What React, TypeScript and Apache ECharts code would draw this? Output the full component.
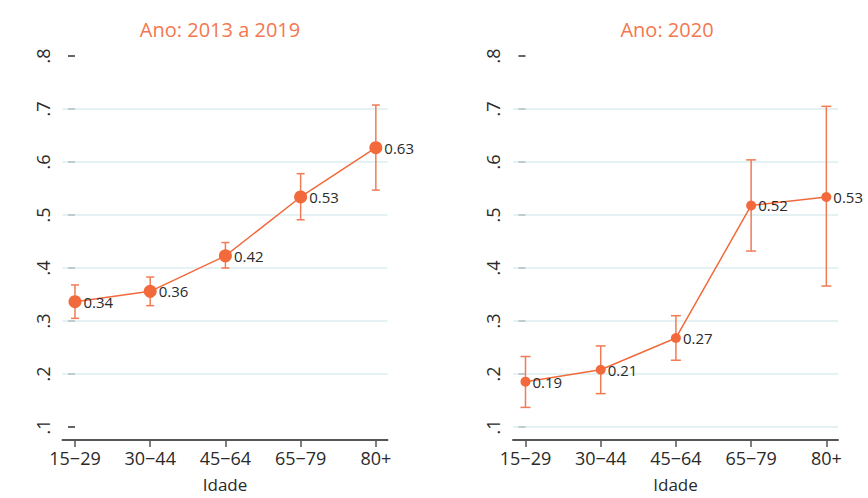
import React, { useEffect, useRef } from "react";
import * as echarts from "echarts";

const categories = ["15−29", "30−44", "45−64", "65−79", "80+"];
const titles = ["Ano: 2013 a 2019", "Ano: 2020"];
const meanA = [0.3365, 0.356, 0.423, 0.534, 0.627];
const lowA = [0.305, 0.329, 0.4, 0.491, 0.547];
const highA = [0.368, 0.383, 0.448, 0.578, 0.7075];
const meanB = [0.1855, 0.208, 0.268, 0.518, 0.534];
const lowB = [0.137, 0.163, 0.226, 0.432, 0.366];
const highB = [0.233, 0.253, 0.31, 0.604, 0.705];
const yTicks = [0.1, 0.2, 0.3, 0.4, 0.5, 0.6, 0.7, 0.8];
const gridValuesA = [0.2, 0.3, 0.4, 0.5, 0.6, 0.7];
const gridValuesB = [0.1, 0.2, 0.3, 0.4, 0.5, 0.6, 0.7];
const xName = "Idade";

const ORANGE = "#f26a3b";
const BAR = "#f27a55";
const GRID = "#dceef0";
const TEXT = "#2a2a2a";
const FONT = "Open Sans";

export default function App() {
  const ref = useRef<HTMLDivElement>(null);
  useEffect(() => {
    if (!ref.current) return;
    const chart = echarts.init(ref.current, null, { renderer: "svg" });
    const grids = [
      { left: 62.5, width: 325, top: 56, bottom: 58, outerBoundsMode: "none", containLabel: false },
      { left: 513, width: 325, top: 56, bottom: 58, outerBoundsMode: "none", containLabel: false },
    ];
    const xAxes = grids.map((_, i) => ({
      type: "value",
      gridIndex: i,
      min: -0.166,
      max: 4.155,
      name: xName,
      nameLocation: "middle",
      nameGap: 36,
      nameTextStyle: { fontFamily: FONT, fontSize: 17, color: TEXT, lineHeight: 17 },
      axisLine: { show: true, lineStyle: { color: "#555", width: 2 } },
      axisTick: { show: true, customValues: [0, 1, 2, 3, 4], length: 7, lineStyle: { color: "#555", width: 1.5 } },
      axisLabel: {
        customValues: [0, 1, 2, 3, 4],
        formatter: (v: number) => categories[Math.round(v)] ?? "",
        fontFamily: FONT,
        fontSize: 18,
        color: TEXT,
        margin: 9,
      },
      splitLine: { show: false },
    }));
    const yAxes = grids.map((_, i) => ({
      type: "value",
      gridIndex: i,
      min: 0.0755,
      max: 0.8,
      axisLine: { show: false },
      axisTick: { show: true, customValues: yTicks, length: 7, lineStyle: { color: "#333", width: 1.5 } },
      axisLabel: {
        customValues: yTicks,
        formatter: (v: number) => v.toFixed(1).replace(/^0/, ""),
        rotate: 90,
        fontFamily: FONT,
        fontSize: 18,
        color: TEXT,
        margin: 11,
      },
      splitLine: { show: false },
    }));
    const panels = [
      { mean: meanA, low: lowA, high: highA, size: 13, cap: 4, grid: gridValuesA },
      { mean: meanB, low: lowB, high: highB, size: 10, cap: 5, grid: gridValuesB },
    ];
    const series: any[] = [];
    panels.forEach((p, i) => {
      series.push({
        type: "custom",
        xAxisIndex: i,
        yAxisIndex: i,
        z: 2,
        encode: { x: 0, y: [1, 2] },
        data: p.low.map((l, k) => [k, l, p.high[k]]),
        renderItem: (params: any, api: any) => {
          const lo = api.coord([api.value(0), api.value(1)]);
          const hi = api.coord([api.value(0), api.value(2)]);
          const st = { stroke: BAR, lineWidth: 1.5 };
          return {
            type: "group",
            children: [
              { type: "line", shape: { x1: lo[0], y1: lo[1], x2: hi[0], y2: hi[1] }, style: st },
              { type: "line", shape: { x1: lo[0] - p.cap, y1: lo[1], x2: lo[0] + p.cap, y2: lo[1] }, style: st },
              { type: "line", shape: { x1: hi[0] - p.cap, y1: hi[1], x2: hi[0] + p.cap, y2: hi[1] }, style: st },
            ],
          };
        },
      });
      series.push({
        type: "line",
        xAxisIndex: i,
        yAxisIndex: i,
        z: 3,
        data: p.mean.map((v, k) => [k, v]),
        symbol: "circle",
        symbolSize: p.size,
        lineStyle: { color: ORANGE, width: 1.5 },
        itemStyle: { color: ORANGE },
        label: {
          show: true,
          position: "right",
          distance: 2,
          formatter: (d: any) => d.value[1].toFixed(2),
          fontFamily: FONT,
          fontSize: 15,
          color: TEXT,
        },
        markLine: {
          silent: true,
          symbol: "none",
          z: 1,
          label: { show: false },
          lineStyle: { color: GRID, width: 1.5, type: "solid" },
          data: p.grid.map((v) => ({ yAxis: v })),
        },
      });
    });
    chart.setOption({
      animation: false,
      backgroundColor: "#ffffff",
      title: [
        { text: titles[0], left: 215, top: 14, textAlign: "center", textStyle: { fontFamily: FONT, fontSize: 20, fontWeight: "normal", color: "#f4774f" } },
        { text: titles[1], left: 662, top: 14, textAlign: "center", textStyle: { fontFamily: FONT, fontSize: 20, fontWeight: "normal", color: "#f4774f" } },
      ],
      grid: grids,
      xAxis: xAxes,
      yAxis: yAxes,
      series,
    });
    return () => chart.dispose();
  }, []);
  return <div ref={ref} style={{ width: 868, height: 498, position: "absolute", left: 0, top: 0 }} />;
}
